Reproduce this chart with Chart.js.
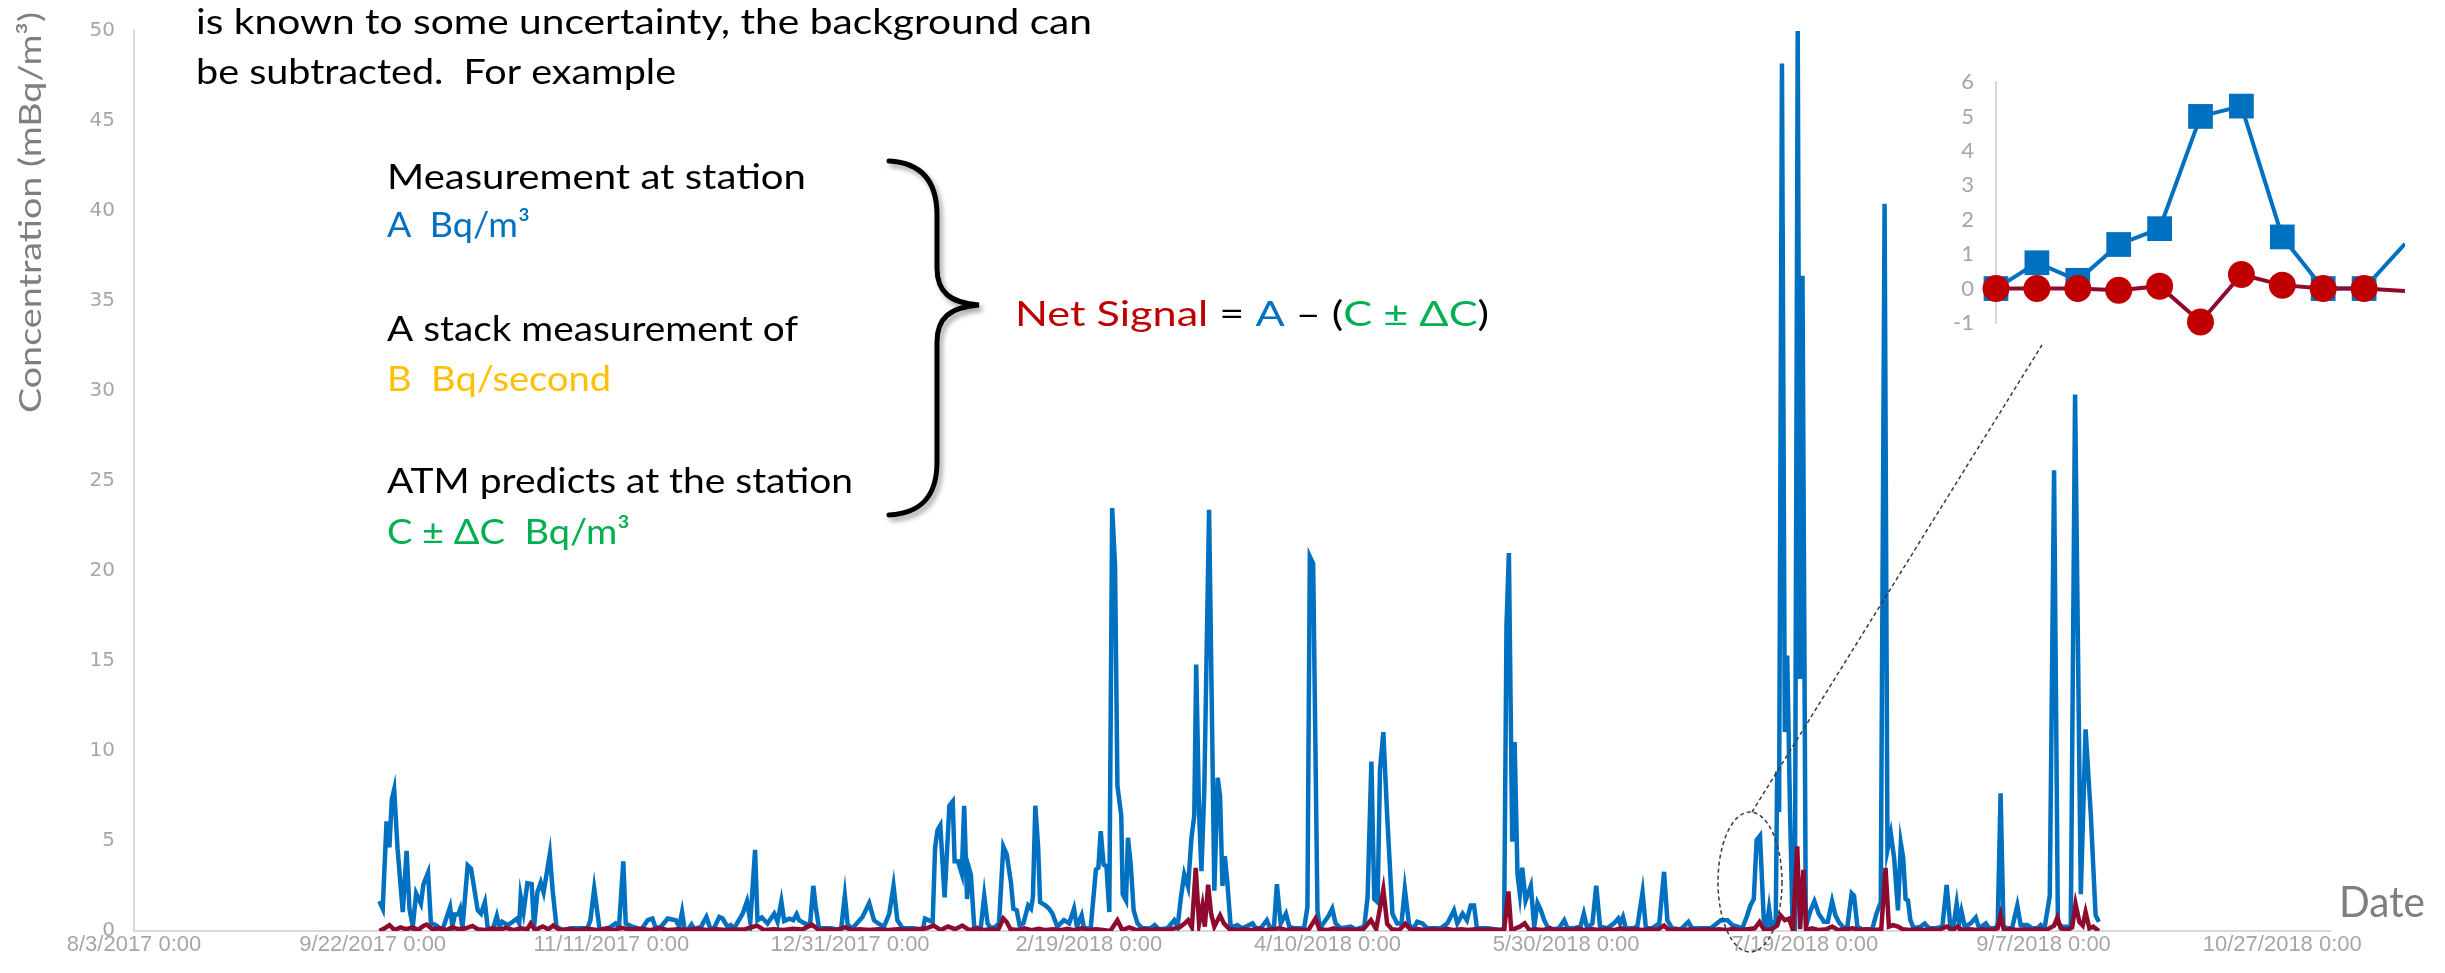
<!DOCTYPE html>
<html>
<head>
<meta charset="utf-8">
<script src="https://cdn.jsdelivr.net/npm/chart.js@4"></script>
<style>
  body { margin: 0; background: #fff; }
  #wrap { position: relative; width: 2445px; height: 973px; }
  #main { position: absolute; left: 0; top: 0; }
  #inset { position: absolute; left: 1940px; top: 40px; }
</style>
</head>
<body>
<div id="wrap">
  <canvas id="main" width="2445" height="973"></canvas>
  <canvas id="inset" width="505" height="320"></canvas>
</div>
<script>
// x values are days after 8/3/2017 0:00
const xTickLabels = ["8/3/2017 0:00", "9/22/2017 0:00", "11/11/2017 0:00", "12/31/2017 0:00", "2/19/2018 0:00",
  "4/10/2018 0:00", "5/30/2018 0:00", "7/19/2018 0:00", "9/7/2018 0:00", "10/27/2018 0:00"];

// measurement at the station (A), mBq/m3
const blueDays = [
  51.4, 52.1, 52.9, 53.5, 54.0, 54.5, 55.2, 56.3, 57.1, 57.7, 58.4, 59.1, 60.1, 60.6, 61.6, 62.2, 63.2, 64.6, 66.2, 66.7,
  67.2, 67.9, 68.3, 68.8, 69.9, 70.6, 72.0, 72.7, 73.5, 74.1, 75.1, 76.0, 76.5, 77.1, 78.3, 79.3, 80.2, 80.7, 81.0, 81.6,
  82.4, 83.3, 83.8, 84.5, 85.2, 85.8, 87.1, 87.7, 88.5, 89.8, 91.5, 95.0, 95.6, 96.4, 97.5, 98.5, 99.9, 100.9, 101.6, 102.5,
  103.0, 104.4, 105.5, 106.2, 107.6, 108.6, 109.3, 110.4, 111.8, 113.5, 114.2, 114.8, 115.3, 116.0, 116.8, 117.4, 118.8, 119.9, 120.7, 121.5,
  122.6, 123.3, 124.3, 125.0, 125.7, 127.5, 128.4, 129.1, 130.1, 130.6, 131.5, 132.7, 134.1, 134.8, 135.6, 136.2, 137.3, 138.1, 138.8, 139.3,
  140.5, 141.6, 142.3, 142.8, 143.5, 144.6, 146.0, 148.1, 148.9, 149.5, 150.5, 152.6, 154.0, 155.0, 155.9, 157.1, 158.2, 159.1, 159.9, 161.0,
  163.4, 165.2, 165.7, 167.3, 167.8, 168.3, 168.9, 169.8, 170.8, 171.5, 171.9, 172.6, 173.4, 173.9, 174.5, 175.0, 175.3, 176.0, 176.7, 177.4,
  178.1, 178.8, 179.5, 180.5, 181.2, 182.1, 182.8, 183.7, 184.2, 184.9, 185.5, 186.3, 187.3, 187.9, 188.3, 188.8, 189.4, 189.8, 190.9, 191.7,
  192.4, 193.4, 194.8, 195.9, 196.9, 197.5, 198.5, 199.0, 200.4, 201.5, 202.0, 202.5, 203.1, 203.7, 204.3, 204.9, 205.5, 206.0, 206.8, 207.1,
  207.8, 208.2, 208.8, 209.4, 210.2, 211.2, 213.0, 213.8, 214.7, 216.5, 217.9, 218.6, 219.3, 220.0, 220.8, 221.5, 222.1, 222.5, 223.1, 223.6,
  224.2, 225.2, 226.3, 227.0, 227.5, 228.0, 228.5, 229.0, 229.7, 230.4, 231.1, 232.2, 234.3, 235.0, 236.0, 237.3, 238.0, 238.8, 239.4, 240.2,
  241.3, 242.0, 243.0, 245.1, 245.8, 246.3, 247.0, 247.9, 248.4, 249.6, 250.3, 251.0, 251.7, 252.8, 254.9, 255.9, 257.7, 258.4, 259.2, 259.8,
  260.5, 261.0, 261.7, 262.5, 263.6, 264.6, 265.5, 266.2, 267.1, 268.1, 268.8, 269.9, 270.9, 273.7, 275.1, 276.5, 277.2, 278.3, 279.2, 280.0,
  280.7, 281.3, 283.5, 286.3, 287.0, 287.5, 288.0, 288.7, 289.2, 289.8, 290.3, 290.8, 291.5, 292.6, 293.3, 294.0, 294.7, 295.4, 296.1, 297.1,
  298.5, 299.6, 300.3, 301.6, 303.0, 303.7, 304.4, 305.5, 306.3, 307.1, 308.6, 310.0, 310.9, 311.3, 311.9, 312.5, 313.9, 314.9, 316.0, 316.7,
  318.0, 319.5, 320.5, 321.2, 322.2, 324.0, 325.6, 326.4, 328.2, 330.3, 332.4, 333.8, 334.8, 335.9, 336.9, 337.8, 338.6, 339.3, 339.9, 340.6,
  341.4, 342.0, 342.5, 343.0, 343.9, 344.2, 344.6, 345.2, 345.8, 346.3, 346.9, 347.4, 347.9, 348.5, 349.0, 349.5, 350.2, 351.2, 352.0, 352.9,
  354.0, 354.8, 355.7, 356.4, 357.1, 358.2, 358.9, 359.8, 360.3, 361.0, 362.0, 364.1, 365.0, 365.9, 366.7, 367.3, 368.0, 368.7, 369.5, 370.1,
  370.6, 371.1, 371.6, 372.1, 372.8, 374.2, 375.1, 376.0, 377.4, 378.8, 379.7, 380.5, 381.2, 381.8, 382.3, 382.8, 383.5, 384.7, 385.8, 386.5,
  387.9, 388.6, 390.0, 390.4, 391.0, 391.6, 392.4, 393.4, 394.5, 395.2, 396.6, 397.6, 398.7, 399.4, 400.2, 401.3, 402.2, 403.0, 403.9, 404.6,
  405.7, 406.6, 407.8, 408.8, 409.9, 410.9, 411.6
];
const blueValues = [
  1.65, 1.24, 6.09, 4.65, 7.3, 7.87, 4.6, 1.05, 4.45, 1.24, 0.24, 2.09, 1.51, 2.56, 3.24, 0.42, 0.33, 0.05, 1.33, 0.24,
  0.91, 0.91, 1.2, 0.15, 3.65, 3.47, 1.15, 0.96, 1.6, 0.15, 0.05, 0.84, 0.24, 0.51, 0.33, 0.51, 0.69, 0.42, 1.91, 1.05,
  2.65, 2.6, 0.24, 2.15, 2.69, 2.15, 4.27, 2.24, 0.24, 0.05, 0.15, 0.15, 0.6, 2.36, 0.15, 0.05, 0.24, 0.42, 0.24, 3.87,
  0.42, 0.24, 0.15, 0.05, 0.6, 0.69, 0.15, 0.24, 0.69, 0.6, 0.24, 1.05, 0.15, 0.05, 0.36, 0.09, 0.24, 0.78, 0.15, 0.15,
  0.78, 0.69, 0.24, 0.33, 0.15, 0.96, 1.65, 0.51, 4.51, 0.6, 0.75, 0.42, 0.96, 0.51, 1.65, 0.56, 0.69, 0.6, 0.93, 0.6,
  0.42, 0.33, 2.51, 1.33, 0.15, 0.15, 0.15, 0.05, 1.96, 0.33, 0.15, 0.78, 1.55, 0.6, 0.42, 0.24, 0.96, 2.51, 0.6, 0.15,
  0.15, 0.05, 0.69, 0.51, 4.6, 5.6, 5.87, 1.87, 6.96, 7.2, 3.87, 3.87, 3.18, 6.96, 1.78, 3.42, 3.15, 0.24, 0.15, 0.24,
  1.96, 0.42, 0.15, 0.24, 0.42, 4.69, 4.27, 2.69, 1.24, 1.15, 0.33, 0.42, 1.42, 1.24, 1.87, 6.96, 4.6, 1.6, 1.42, 1.24,
  0.96, 0.24, 0.6, 0.42, 1.24, 0.24, 0.87, 0.15, 0.15, 3.42, 3.51, 5.55, 3.69, 3.6, 1.05, 23.5, 20.3, 8.05, 6.42, 2.05,
  1.69, 5.18, 3.69, 1.15, 0.42, 0.15, 0.15, 0.33, 0.09, 0.15, 0.6, 0.24, 1.87, 3.15, 2.45, 5.15, 6.42, 14.8, 6.6, 3.33,
  7.87, 23.4, 2.24, 8.51, 7.51, 2.51, 4.15, 2.78, 0.33, 0.24, 0.33, 0.15, 0.42, 0.15, 0.15, 0.6, 0.15, 0.24, 2.6, 0.42,
  0.96, 0.24, 0.15, 0.15, 1.33, 20.8, 20.4, 1.15, 0.15, 0.6, 0.87, 1.24, 0.42, 0.15, 0.24, 0.09, 0.24, 1.87, 9.42, 1.78,
  1.6, 8.96, 11.05, 6.42, 0.96, 0.42, 0.42, 2.33, 0.33, 0.15, 0.51, 0.42, 0.15, 0.15, 0.42, 1.15, 0.42, 0.96, 0.6, 1.42,
  1.42, 0.15, 0.15, 0.05, 0.15, 17.0, 21.0, 4.96, 10.5, 3.15, 2.05, 3.51, 1.69, 2.51, 0.24, 1.55, 1.15, 0.6, 0.24, 0.09,
  0.15, 0.6, 0.15, 0.15, 0.24, 0.96, 0.15, 0.42, 2.51, 0.24, 0.15, 0.42, 0.69, 0.42, 0.78, 0.15, 0.15, 0.24, 2.15, 0.15,
  0.15, 0.42, 3.29, 0.6, 0.15, 0.09, 0.51, 0.15, 0.15, 0.15, 0.6, 0.6, 0.33, 0.24, 0.15, 0.78, 1.42, 1.78, 5.05, 5.29,
  0.6, 0.24, 1.24, 0.24, 0.6, 8.87, 6.6, 48.2, 11.05, 15.3, 6.6, 0.6, 0.24, 50, 14, 36.4, 0.24, 1.15, 1.65, 0.96,
  0.51, 0.51, 1.65, 0.87, 0.51, 0.15, 0.24, 2.09, 1.96, 0.24, 0.09, 0.09, 0.96, 1.6, 40.4, 4.51, 5.42, 4.05, 1.15, 4.87,
  4.05, 1.78, 1.69, 0.6, 0.15, 0.24, 0.42, 0.15, 0.15, 0.24, 2.56, 0.15, 0.42, 1.51, 0.42, 1.09, 0.24, 0.42, 0.75, 0.15,
  0.42, 0.15, 0.15, 0.42, 7.65, 0.24, 0.15, 0.15, 1.42, 0.33, 0.33, 0.15, 0.15, 0.33, 0.15, 1.96, 25.6, 0.42, 0.24, 0.24,
  0.24, 29.8, 2.05, 11.2, 6.42, 0.87, 0.51
];

// net signal, mBq/m3
const netDays = [
  51.4, 52.5, 53.5, 54.6, 55.8, 57.0, 58.4, 59.5, 60.6, 61.3, 62.5, 64.0, 65.5, 66.6, 68.0, 69.5, 70.9, 72.0, 73.5, 75.0,
  76.5, 78.0, 79.5, 81.0, 82.4, 83.1, 84.0, 85.6, 86.8, 87.8, 89.2, 91, 93, 95, 97, 99, 100.5, 102, 104, 106,
  108, 110, 112, 114, 116, 118, 120, 122, 124, 126, 128, 130.5, 132, 134, 136, 138, 140, 142, 143.5, 145,
  147, 148.9, 150.5, 152, 154, 156, 158, 160, 162, 164, 166, 167.5, 169, 170.5, 172, 173.5, 175, 176.5, 178, 179.5,
  181, 182.1, 182.8, 183.6, 185, 186.5, 188, 189.5, 191, 192.5, 194, 195.5, 197, 198.5, 200, 201.5, 203, 204.5, 206, 207,
  208.5, 210, 211.5, 213, 214.5, 216, 217.5, 219, 220, 220.8, 221.6, 222.4, 223.1, 223.8, 224.3, 225.0, 225.6, 226.3, 227.5, 228.3,
  229.5, 231, 232.5, 234, 235.5, 237, 238.5, 240, 241.5, 243, 244.5, 246, 247.5, 248.3, 250, 251.3, 253, 254.5, 256, 257.5,
  259.1, 260.2, 261.7, 262.5, 263.5, 265, 266.3, 267.5, 269, 270.5, 272, 273.5, 275, 276.5, 278, 279.5, 281, 282.5, 284, 285.5,
  287, 287.9, 288.5, 290.3, 291.3, 292.3, 293.5, 295, 296.5, 298, 299.5, 301, 302.5, 304, 305.5, 307, 308.5, 310, 311.5, 313,
  314.5, 316, 317.5, 319, 320.5, 321.5, 323, 324.5, 326, 327.5, 329, 330.5, 332, 333.5, 335, 336.5, 338, 339.5, 340.5, 341.5,
  343, 344.2, 344.9, 345.8, 346.7, 347.5, 348.4, 349.0, 349.7, 350.3, 351.5, 353, 354.5, 355.7, 357, 358.5, 360, 361.5, 363, 364.5,
  366, 366.9, 367.6, 368.5, 369.5, 370.5, 372, 373.5, 375, 376.5, 378, 379.7, 381, 381.9, 383, 384.5, 386, 387.5, 389, 390.4,
  391.0, 391.7, 393, 394.5, 396, 397.5, 399, 400.5, 402.2, 402.9, 403.6, 405, 406, 406.7, 407.5, 408.2, 408.8, 409.6, 410.4, 411.6
];
const netValues = [
  0, 0.15, 0.33, 0.05, 0.2, 0.1, 0.2, 0.05, 0.28, 0.36, 0.1, 0.15, 0.05, 0.2, 0.1, 0.15, 0.28, 0.1, 0.05, 0.15,
  0.08, 0.18, 0.05, 0.15, 0.1, 0.42, 0.05, 0.25, 0.1, 0.3, 0.05, 0.1, 0.05, 0.12, 0.05, 0.15, 0.05, 0.18, 0.08, 0.12,
  0.05, 0.15, 0.05, 0.1, 0.05, 0.12, 0.05, 0.1, 0.05, 0.08, 0.1, 0.3, 0.05, 0.1, 0.05, 0.12, 0.08, 0.35, 0.05, 0.1,
  0.05, 0.2, 0.05, 0.1, 0.05, 0.1, 0.05, 0.1, 0.05, 0.1, 0.15, 0.3, 0.05, 0.25, 0.1, 0.3, 0.05, 0.15, 0.05, 0.1,
  0.05, 0.7, 0.5, 0.1, 0.05, 0.15, 0.05, 0.12, 0.05, 0.1, 0.05, 0.12, 0.05, 0.15, 0.05, 0.1, 0.05, 0, 0.6, 0.05,
  0.2, 0.05, 0.1, 0.05, 0.1, 0.05, 0.12, 0.2, 0.4, 0.6, 0.2, 3.5, 0.4, 1.4, 0.24, 2.57, 1.0, 0.24, 0.87, 0.42,
  0.1, 0.05, 0.1, 0.05, 0.12, 0.05, 0.1, 0.15, 0.05, 0.1, 0.05, 0.05, 0.7, 0.1, 0.05, 0.15, 0.05, 0.1, 0.05, 0.1,
  0.6, 0.1, 2.3, 0.4, 0.1, 0.05, 0.4, 0.05, 0.1, 0.05, 0.1, 0.05, 0.12, 0.05, 0.1, 0.05, 0.1, 0.05, 0.08, 0.05,
  0.05, 2.2, 0.05, 0.24, 0.42, 0.05, 0.1, 0.05, 0.15, 0.05, 0.1, 0.05, 0.12, 0.05, 0.1, 0.05, 0.1, 0.05, 0.15, 0.05,
  0.1, 0.05, 0.1, 0.05, 0.3, 0.05, 0.1, 0.05, 0.1, 0.05, 0.1, 0.05, 0.1, 0.05, 0.12, 0.05, 0.1, 0.15, 0.5, 0.05,
  0.1, 0.3, 0.87, 0.6, 0.69, 0.05, 4.7, 0.1, 3.4, 0.05, 0.15, 0.05, 0.1, 0.25, 0.05, 0.1, 0.15, 0.05, 0.1, 0.05,
  0.1, 3.5, 0.24, 0.33, 0.24, 0.1, 0.05, 0.1, 0.05, 0.1, 0.05, 0.25, 0.05, 0.25, 0.05, 0.1, 0.05, 0.1, 0.05, 0.15,
  0.87, 0.05, 0.1, 0.05, 0.1, 0.05, 0.1, 0.05, 0.3, 0.75, 0.15, 0.05, 0.2, 1.5, 0.5, 0.3, 1.05, 0.15, 0.24, 0
];

// zoomed inset (ten days around the circled peak)
const insetMeasured = [0, 0.75, 0.24, 1.28, 1.74, 5.0, 5.3, 1.5, 0, 0, 1.3];
const insetNet = [0, 0, 0, -0.05, 0.07, -0.97, 0.41, 0.1, 0, 0, -0.07];

const BLUE = "#0070C0";
const NET_LINE = "#8E0B2E";
const NET_DOT = "#C00000";
const GREEN = "#00B050";
const GOLD = "#FFC000";

const toPoints = (xs, ys) => xs.map((x, i) => ({ x: x, y: ys[i] }));

// draw coloured text pieces on one line, squeezed to a given width
function fitRuns(ctx, parts, x, y, width, font) {
  ctx.font = font;
  const total = parts.reduce((s, p) => s + ctx.measureText(p[0]).width, 0);
  ctx.save();
  ctx.translate(x, y);
  ctx.scale(width / total, 1);
  let cx = 0;
  parts.forEach(([t, c]) => {
    ctx.fillStyle = c;
    ctx.fillText(t, cx, 0);
    cx += ctx.measureText(t).width;
  });
  ctx.restore();
}

const notes = {
  id: "notes",
  afterDraw(chart) {
    const ctx = chart.ctx;
    const txt = "34px Lato";
    ctx.save();
    ctx.textAlign = "left";
    ctx.textBaseline = "alphabetic";

    // axis titles
    ctx.save();
    ctx.translate(41, 213);
    ctx.rotate(-Math.PI / 2);
    fitRuns(ctx, [["Concentration (mBq/m³)", "#7f7f7f"]], -200, 0, 401, "31px Lato");
    ctx.restore();
    fitRuns(ctx, [["Date", "#7f7f7f"]], 2339, 917, 86, "43px Lato");

    // slide text
    fitRuns(ctx, [["is known to some uncertainty, the background can", "#000"]], 196, 34, 896, txt);
    fitRuns(ctx, [["be subtracted.  For example", "#000"]], 196, 84, 480, txt);

    fitRuns(ctx, [["Measurement at station", "#000"]], 387, 189, 419, txt);
    fitRuns(ctx, [["A  Bq/m³", BLUE]], 387, 237, 143, txt);
    fitRuns(ctx, [["A stack measurement of", "#000"]], 387, 341, 411, txt);
    fitRuns(ctx, [["B  Bq/second", GOLD]], 387, 391, 224, txt);
    fitRuns(ctx, [["ATM predicts at the station", "#000"]], 387, 493, 466, txt);
    fitRuns(ctx, [["C ± ΔC  Bq/m³", GREEN]], 387, 544, 243, txt);

    fitRuns(ctx, [["Net Signal", NET_DOT], [" = ", "#000"], ["A", BLUE], [" – (", "#000"],
      ["C ± ΔC", GREEN], [")", "#000"]], 1015, 326, 474, txt);

    // curly brace
    ctx.save();
    ctx.strokeStyle = "#000";
    ctx.lineWidth = 5;
    ctx.lineCap = "round";
    ctx.shadowColor = "rgba(0,0,0,0.35)";
    ctx.shadowOffsetX = 3;
    ctx.shadowOffsetY = 4;
    ctx.shadowBlur = 5;
    ctx.beginPath();
    ctx.moveTo(889, 161);
    ctx.bezierCurveTo(925, 163, 937, 185, 937, 215);
    ctx.lineTo(937, 268);
    ctx.bezierCurveTo(937, 292, 950, 303, 979, 305);
    ctx.bezierCurveTo(950, 307, 937, 318, 937, 342);
    ctx.lineTo(937, 462);
    ctx.bezierCurveTo(937, 492, 925, 513, 889, 515);
    ctx.stroke();
    ctx.restore();

    // dashed call-out to the inset
    ctx.save();
    ctx.strokeStyle = "#3a3a3a";
    ctx.lineWidth = 1.5;
    ctx.setLineDash([4, 3]);
    ctx.beginPath();
    ctx.ellipse(1750, 882, 32, 70, 0, 0, Math.PI * 2);
    ctx.stroke();
    ctx.beginPath();
    ctx.moveTo(1752, 812);
    ctx.lineTo(2042, 345);
    ctx.stroke();
    ctx.restore();

    ctx.restore();
  }
};

new Chart(document.getElementById("main"), {
  type: "line",
  data: {
    datasets: [
      { label: "Net signal", data: toPoints(netDays, netValues), borderColor: NET_LINE, borderWidth: 4.5, pointRadius: 0, tension: 0 },
      { label: "Measurement", data: toPoints(blueDays, blueValues), borderColor: BLUE, borderWidth: 4.5, pointRadius: 0, tension: 0 }
    ]
  },
  options: {
    responsive: false,
    animation: false,
    devicePixelRatio: 1,
    layout: { padding: { top: 14, right: 115, left: 0, bottom: 0 } },
    plugins: { legend: { display: false }, tooltip: { enabled: false } },
    scales: {
      x: {
        type: "linear",
        min: 0,
        max: 460,
        afterFit: (s) => { s.height = 42; },
        grid: { display: false, drawTicks: false },
        border: { color: "#d9d9d9", width: 2 },
        ticks: {
          stepSize: 50,
          includeBounds: false,
          autoSkip: false,
          maxRotation: 0,
          padding: 1,
          color: "#a6a6a6",
          font: { family: "'Liberation Sans', Arial, sans-serif", size: 22 },
          callback: (v) => xTickLabels[v / 50] || ""
        }
      },
      y: {
        min: 0,
        max: 50,
        afterFit: (s) => { s.width = 134; },
        grid: { display: false, drawTicks: false },
        border: { color: "#d9d9d9", width: 2 },
        ticks: {
          stepSize: 5,
          padding: 19,
          color: "#a6a6a6",
          font: { family: "'DejaVu Sans', sans-serif", size: 20 }
        }
      }
    }
  },
  plugins: [notes]
});

const insetClip = { left: false, top: false, right: 0, bottom: false };
const lastHidden = (arr, r) => arr.map((_, i) => (i < arr.length - 1 ? r : 0));

new Chart(document.getElementById("inset"), {
  type: "line",
  data: {
    datasets: [
      {
        data: insetNet.map((y, i) => ({ x: i, y: y })),
        borderColor: NET_LINE,
        borderWidth: 4,
        pointStyle: "circle",
        pointRadius: lastHidden(insetNet, 13.5),
        pointBackgroundColor: NET_DOT,
        pointBorderColor: NET_DOT,
        pointBorderWidth: 0,
        clip: insetClip
      },
      {
        data: insetMeasured.map((y, i) => ({ x: i, y: y })),
        borderColor: BLUE,
        borderWidth: 4,
        pointStyle: "rect",
        pointRadius: lastHidden(insetMeasured, 17.5),
        pointBackgroundColor: BLUE,
        pointBorderColor: BLUE,
        pointBorderWidth: 0,
        clip: insetClip
      }
    ]
  },
  options: {
    responsive: false,
    animation: false,
    devicePixelRatio: 1,
    layout: { padding: { top: 42, right: 40, bottom: 37, left: 0 } },
    plugins: { legend: { display: false }, tooltip: { enabled: false } },
    scales: {
      x: { type: "linear", display: false, min: 0, max: 10 },
      y: {
        min: -1,
        max: 6,
        afterFit: (s) => { s.width = 56; },
        grid: { display: false, drawTicks: false },
        border: { color: "#d9d9d9", width: 2 },
        ticks: {
          stepSize: 1,
          padding: 22,
          color: "#a6a6a6",
          font: { family: "Lato, sans-serif", size: 22 }
        }
      }
    }
  }
});
</script>
</body>
</html>
